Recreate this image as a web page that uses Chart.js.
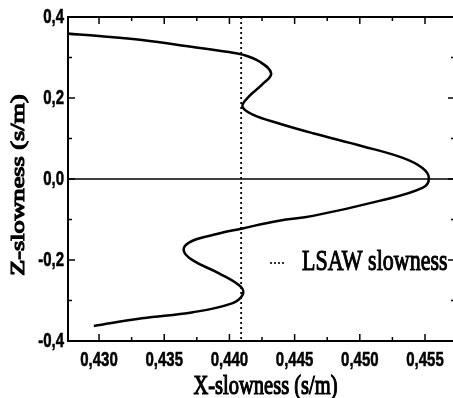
<!DOCTYPE html>
<html>
<head>
<meta charset="utf-8">
<script src="https://cdn.jsdelivr.net/npm/chart.js@4"></script>
<style>
  html, body { margin: 0; padding: 0; background: #fff; overflow: hidden; }
  #wrap { position: relative; width: 460px; height: 398px; }
</style>
</head>
<body>
<div id="wrap"><canvas id="chart"></canvas></div>
<script>
// Slowness curve (top branch to bottom branch)
const X_SLOW = [0.4276, 0.4300, 0.4333, 0.4372, 0.4398, 0.4410, 0.4423, 0.4432, 0.4425, 0.4415,
  0.4410, 0.4418, 0.4438, 0.4464, 0.4502, 0.4533, 0.4548, 0.4553, 0.4548, 0.4515,
  0.4464, 0.4438, 0.4410, 0.4385, 0.4369, 0.4365, 0.4372, 0.4392, 0.4409, 0.4410,
  0.4402, 0.4372, 0.4333, 0.4296];
const Z_SLOW = [0.359, 0.353, 0.343, 0.326, 0.314, 0.307, 0.290, 0.261, 0.233, 0.204,
  0.179, 0.159, 0.137, 0.113, 0.081, 0.052, 0.027, 0.002, -0.022, -0.054,
  -0.091, -0.103, -0.122, -0.140, -0.157, -0.177, -0.201, -0.233, -0.267, -0.287,
  -0.307, -0.329, -0.344, -0.363];
const LSAW_X = 0.4409;

const X_MIN = 0.42762, X_MAX = 0.4573;
const Y_MIN = -0.4, Y_MAX = 0.4;
const X_TICKS = [0.430, 0.435, 0.440, 0.445, 0.450, 0.455];
const X_MINOR = [0.4325, 0.4375, 0.4425, 0.4475, 0.4525];
const Y_TICKS = [-0.4, -0.2, 0.0, 0.2, 0.4];
const Y_MINOR = [-0.3, -0.1, 0.1, 0.3];

const X_TITLE = "X-slowness (s/m)";
const Y_TITLE = "Z-slowness (s/m)";
const LEGEND_TEXT = "LSAW slowness";

const STRETCH = 1.38; // the original figure is stretched vertically
const SERIF = "'Liberation Serif', 'Times New Roman', serif";
const TICK_FONT = "bold 15px 'Liberation Sans', Arial, sans-serif";

const comma = (v, d) => v.toFixed(d).replace(".", ",");

// text squeezed like the scanned original, with a light outline to thicken strokes
function stretchedText(ctx, str, x, y, font, align, rotate, heavy) {
  ctx.save();
  ctx.translate(x, y);
  ctx.scale(1, STRETCH);
  if (rotate) ctx.rotate(-Math.PI / 2);
  ctx.font = font;
  ctx.fillStyle = "#000";
  ctx.strokeStyle = "#000";
  ctx.textAlign = align;
  ctx.textBaseline = "middle";
  ctx.fillText(str, 0, 0);
  if (heavy) { ctx.lineWidth = heavy; ctx.strokeText(str, 0, 0); }
  ctx.restore();
}

// frame, inward ticks, tick labels, titles and legend
const framePlugin = {
  id: "frame",
  afterDraw(chart) {
    const { ctx, chartArea: a, scales: { x, y } } = chart;
    ctx.save();
    ctx.strokeStyle = "#000";
    ctx.lineWidth = 2;
    ctx.strokeRect(a.left, a.top, a.right - a.left, a.bottom - a.top);

    ctx.lineWidth = 1.5;
    const seg = (x0, y0, dx, dy) => {
      ctx.beginPath(); ctx.moveTo(x0, y0); ctx.lineTo(x0 + dx, y0 + dy); ctx.stroke();
    };
    const xTicks = (vals, len) => vals.forEach((v) => {
      const px = x.getPixelForValue(v);
      seg(px, a.bottom, 0, -len); seg(px, a.top, 0, len);
    });
    const yTicks = (vals, len) => vals.forEach((v) => {
      const py = y.getPixelForValue(v);
      seg(a.left, py, len, 0); seg(a.right, py, -len, 0);
    });
    xTicks(X_TICKS, 7); xTicks(X_MINOR, 4);
    yTicks(Y_TICKS, 7); yTicks(Y_MINOR, 4);

    // tick labels
    X_TICKS.forEach((v) => stretchedText(ctx, comma(v, 3), x.getPixelForValue(v), a.bottom + 19, TICK_FONT, "center", false, 0.4));
    Y_TICKS.forEach((v) => stretchedText(ctx, comma(v, 1), a.left - 4, y.getPixelForValue(v), TICK_FONT, "right", false, 0.4));

    // axis titles
    stretchedText(ctx, X_TITLE, (a.left + a.right) / 2 + 4, 387, "20.5px " + SERIF, "center", false, 0.9);
    stretchedText(ctx, Y_TITLE, 19, (a.top + a.bottom) / 2 + 6, "19px " + SERIF, "center", true, 1.1);

    // legend
    ctx.setLineDash([2, 2]);
    ctx.lineWidth = 1.6;
    seg(270, 263, 14, 0);
    ctx.setLineDash([]);
    stretchedText(ctx, LEGEND_TEXT, 302, 262, "22px " + SERIF, "left", false, 0.8);
    ctx.restore();
  },
};

const curve = X_SLOW.map((v, i) => ({ x: v, y: Z_SLOW[i] }));

new Chart(document.getElementById("chart"), {
  type: "scatter",
  data: {
    datasets: [
      { data: curve, showLine: true, borderColor: "#000", borderWidth: 2.5, pointRadius: 0, tension: 0.4 },
      { data: [{ x: X_MIN, y: 0 }, { x: X_MAX, y: 0 }], showLine: true, borderColor: "#000", borderWidth: 1.5, pointRadius: 0 },
      { data: [{ x: LSAW_X, y: Y_MAX }, { x: LSAW_X, y: Y_MIN }], showLine: true, borderColor: "#000",
        borderWidth: 1.8, borderDash: [2, 3], pointRadius: 0 },
    ],
  },
  options: {
    animation: false,
    responsive: true,
    maintainAspectRatio: false,
    devicePixelRatio: 1,
    layout: { padding: { top: 17, right: 5, left: 0, bottom: 0 } },
    plugins: { legend: { display: false }, tooltip: { enabled: false } },
    scales: {
      x: {
        type: "linear", min: X_MIN, max: X_MAX,
        grid: { display: false }, border: { display: false },
        afterBuildTicks: (s) => { s.ticks = X_TICKS.map((v) => ({ value: v })); },
        afterFit: (s) => { s.height = 57; },
        ticks: { display: false },
      },
      y: {
        type: "linear", min: Y_MIN, max: Y_MAX,
        grid: { display: false }, border: { display: false },
        afterBuildTicks: (s) => { s.ticks = Y_TICKS.map((v) => ({ value: v })); },
        afterFit: (s) => { s.width = 68; },
        ticks: { display: false },
      },
    },
  },
  plugins: [framePlugin],
});
</script>
</body>
</html>
